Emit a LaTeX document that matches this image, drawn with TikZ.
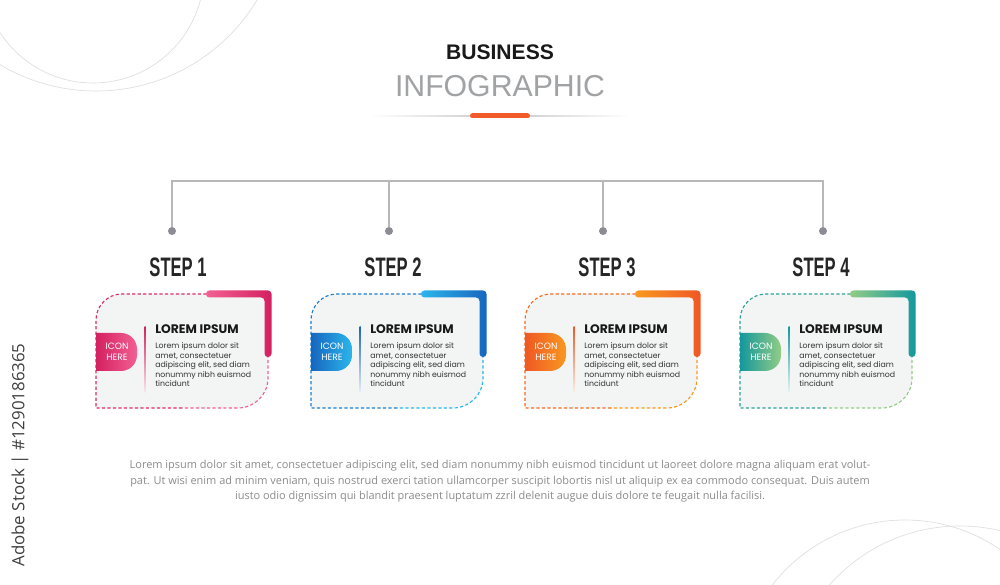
\documentclass[tikz,border=0pt]{standalone}
\usepackage{fontspec}
\setmainfont{Liberation Sans}
\newfontfamily\popfont{Poppins}
\newfontfamily\opensans{Open Sans}
\newfontfamily\stepfont{Liberation Sans}[FakeStretch=0.62]
\usepackage{xcolor}
\definecolor{pinkhi}{RGB}{242, 96,146}
\definecolor{pinklo}{RGB}{212, 32, 96}
\definecolor{bluehi}{RGB}{ 44,182,236}
\definecolor{bluelo}{RGB}{ 22,102,190}
\definecolor{orahi}{RGB}{248,152, 32}
\definecolor{oralo}{RGB}{240, 88, 36}
\definecolor{tealhi}{RGB}{146,204,134}
\definecolor{teallo}{RGB}{ 20,152,156}
\definecolor{cardbg}{RGB}{243,244,244}
\definecolor{linegray}{RGB}{184,184,186}
\definecolor{dotgray}{RGB}{140,140,148}
\definecolor{titlegray}{RGB}{160,162,164}
\definecolor{textgray}{RGB}{140,140,140}
\definecolor{accent}{RGB}{241, 90, 41}
\usepackage{tikz}
\usetikzlibrary{positioning}

\begin{document}
\begin{tikzpicture}[x=0.025cm, y=0.025cm]

  \tikzstyle{cardtitle} = [anchor=west, inner sep=0pt,
    font=\popfont\bfseries\fontsize{8.8}{10}\selectfont, text=black!90]
  \tikzstyle{cardtext} = [inner sep=0pt, align=left,
    font=\popfont\fontsize{5.55}{6.7}\selectfont, text=black!80]
  \tikzstyle{icontext} = [inner sep=0pt, align=center,
    font=\popfont\fontsize{6.5}{7.8}\selectfont, text=white]
  \tikzstyle{steplabel} = [inner sep=0pt,
    font=\stepfont\bfseries\fontsize{19}{19}\selectfont, text=black!85]
  \tikzstyle{hubdot} = [circle, fill=dotgray, inner sep=0pt, minimum size=0.2cm]
  \tikzstyle{treeline} = [draw=linegray, line width=0.9pt]
  \tikzstyle{cardline} = [dash pattern=on 2.3pt off 1.6pt, line width=0.8pt]
  \tikzstyle{arcline} = [draw=black!12, line width=0.5pt]

  \fill[white] (0,0) rectangle (1000,585);
  \useasboundingbox (0,0) rectangle (1000,585);

  % faint circles in the corners
  \begin{scope}
    \clip (0,0) rectangle (1000,585);
    \draw[arcline] (93,613) circle[radius=111];
    \draw[arcline] (96,682) circle[radius=188];
    \draw[arcline] (905,-103) circle[radius=168];
    \draw[arcline] (960,-115) circle[radius=174];
  \end{scope}

  % title
  \node[font=\bfseries\fontsize{15}{15}\selectfont, text=black!90] (biz) at (500,533) {BUSINESS};
  \node[font=\fontsize{21.5}{21.5}\selectfont, text=titlegray] (info) at (500,499) {INFOGRAPHIC};
  \shade[left color=white, right color=white, middle color=black!22] (370,468.6) rectangle (630,469.4);
  \draw[accent, line width=0.125cm, line cap=round] (472.5,469) -- (527.5,469);

  % tree
  \coordinate (b1) at (172,404);
  \coordinate (b2) at (389,404);
  \coordinate (b3) at (603,404);
  \coordinate (b4) at (823,404);
  \node[hubdot] (d1) at (172,354) {};
  \node[hubdot] (d2) at (389,354) {};
  \node[hubdot] (d3) at (603,354) {};
  \node[hubdot] (d4) at (823,354) {};
  \draw[treeline] (d1) -- (b1) -- (b4) -- (d4);
  \draw[treeline] (b2) -- (d2);
  \draw[treeline] (b3) -- (d3);

  \node[steplabel] (st1) at (178,318) {STEP 1};
  \node[steplabel] (st2) at (393,318) {STEP 2};
  \node[steplabel] (st3) at (607,318) {STEP 3};
  \node[steplabel] (st4) at (821,318) {STEP 4};

  % card 1
  \begin{scope}[shift={(96,177)}]
    \fill[cardbg] (0,0) -- (0,88) arc[start angle=180, end angle=90, radius=26] -- (172,114)
      -- (172,30) arc[start angle=0, end angle=-90, radius=30] -- cycle;
    \draw[cardline, pinklo!80!pinkhi] (86,0) -- (0,0) -- (0,88) arc[start angle=180, end angle=90, radius=26] -- (172,114);
    \draw[cardline, pinkhi] (172,114) -- (172,30) arc[start angle=0, end angle=-90, radius=30] -- (86,0);
    \shade[left color=pinkhi, right color=pinklo, rounded corners=0.085cm] (110,110.5) -- (110,117.5)
      -- (175.5,117.5) -- (175.5,51) -- (168.5,51) -- (168.5,110.5) -- cycle;
    \shade[left color=pinklo, right color=pinkhi] (0,37) -- (25,37) arc[start angle=-90, end angle=0, radius=16]
      -- (41,59) arc[start angle=0, end angle=90, radius=16] -- (0,75) -- cycle;
    \shade[top color=pinklo, bottom color=pinklo!10] (48.5,15) rectangle (49.5,81);
    \node[icontext] (ic1) at (21,56.5) {ICON\\HERE};
    \node[cardtitle] (lt1) at (59,79) {LOREM IPSUM};
    \node[cardtext, below=0.22cm of lt1.south west, anchor=north west] (lb1)
      {Lorem ipsum dolor sit\\amet, consectetuer\\adipiscing elit, sed diam\\nonummy nibh euismod\\tincidunt};
  \end{scope}

  % card 2
  \begin{scope}[shift={(311,177)}]
    \fill[cardbg] (0,0) -- (0,88) arc[start angle=180, end angle=90, radius=26] -- (172,114)
      -- (172,30) arc[start angle=0, end angle=-90, radius=30] -- cycle;
    \draw[cardline, bluelo!70!bluehi] (86,0) -- (0,0) -- (0,88) arc[start angle=180, end angle=90, radius=26] -- (172,114);
    \draw[cardline, bluehi] (172,114) -- (172,30) arc[start angle=0, end angle=-90, radius=30] -- (86,0);
    \shade[left color=bluehi, right color=bluelo, rounded corners=0.085cm] (110,110.5) -- (110,117.5)
      -- (175.5,117.5) -- (175.5,51) -- (168.5,51) -- (168.5,110.5) -- cycle;
    \shade[left color=bluelo, right color=bluehi] (0,37) -- (25,37) arc[start angle=-90, end angle=0, radius=16]
      -- (41,59) arc[start angle=0, end angle=90, radius=16] -- (0,75) -- cycle;
    \shade[top color=bluelo, bottom color=bluelo!10] (48.5,15) rectangle (49.5,81);
    \node[icontext] (ic2) at (21,56.5) {ICON\\HERE};
    \node[cardtitle] (lt2) at (59,79) {LOREM IPSUM};
    \node[cardtext, below=0.22cm of lt2.south west, anchor=north west] (lb2)
      {Lorem ipsum dolor sit\\amet, consectetuer\\adipiscing elit, sed diam\\nonummy nibh euismod\\tincidunt};
  \end{scope}

  % card 3
  \begin{scope}[shift={(525,177)}]
    \fill[cardbg] (0,0) -- (0,88) arc[start angle=180, end angle=90, radius=26] -- (172,114)
      -- (172,30) arc[start angle=0, end angle=-90, radius=30] -- cycle;
    \draw[cardline, oralo!70!orahi] (86,0) -- (0,0) -- (0,88) arc[start angle=180, end angle=90, radius=26] -- (172,114);
    \draw[cardline, orahi] (172,114) -- (172,30) arc[start angle=0, end angle=-90, radius=30] -- (86,0);
    \shade[left color=orahi, right color=oralo, rounded corners=0.085cm] (110,110.5) -- (110,117.5)
      -- (175.5,117.5) -- (175.5,51) -- (168.5,51) -- (168.5,110.5) -- cycle;
    \shade[left color=oralo, right color=orahi] (0,37) -- (25,37) arc[start angle=-90, end angle=0, radius=16]
      -- (41,59) arc[start angle=0, end angle=90, radius=16] -- (0,75) -- cycle;
    \shade[top color=oralo, bottom color=oralo!10] (48.5,15) rectangle (49.5,81);
    \node[icontext] (ic3) at (21,56.5) {ICON\\HERE};
    \node[cardtitle] (lt3) at (59,79) {LOREM IPSUM};
    \node[cardtext, below=0.22cm of lt3.south west, anchor=north west] (lb3)
      {Lorem ipsum dolor sit\\amet, consectetuer\\adipiscing elit, sed diam\\nonummy nibh euismod\\tincidunt};
  \end{scope}

  % card 4
  \begin{scope}[shift={(740,177)}]
    \fill[cardbg] (0,0) -- (0,88) arc[start angle=180, end angle=90, radius=26] -- (172,114)
      -- (172,30) arc[start angle=0, end angle=-90, radius=30] -- cycle;
    \draw[cardline, teallo!80!tealhi] (86,0) -- (0,0) -- (0,88) arc[start angle=180, end angle=90, radius=26] -- (172,114);
    \draw[cardline, tealhi] (172,114) -- (172,30) arc[start angle=0, end angle=-90, radius=30] -- (86,0);
    \shade[left color=tealhi, right color=teallo, rounded corners=0.085cm] (110,110.5) -- (110,117.5)
      -- (175.5,117.5) -- (175.5,51) -- (168.5,51) -- (168.5,110.5) -- cycle;
    \shade[left color=teallo, right color=tealhi] (0,37) -- (25,37) arc[start angle=-90, end angle=0, radius=16]
      -- (41,59) arc[start angle=0, end angle=90, radius=16] -- (0,75) -- cycle;
    \shade[top color=teallo, bottom color=teallo!10] (48.5,15) rectangle (49.5,81);
    \node[icontext] (ic4) at (21,56.5) {ICON\\HERE};
    \node[cardtitle] (lt4) at (59,79) {LOREM IPSUM};
    \node[cardtext, below=0.22cm of lt4.south west, anchor=north west] (lb4)
      {Lorem ipsum dolor sit\\amet, consectetuer\\adipiscing elit, sed diam\\nonummy nibh euismod\\tincidunt};
  \end{scope}

  % paragraph and side mark
  \node[font=\opensans\fontsize{7.8}{11}\selectfont, text=textgray, align=center] (para) at (500,103.5)
    {Lorem ipsum dolor sit amet, consectetuer adipiscing elit, sed diam nonummy nibh euismod tincidunt ut laoreet dolore magna aliquam erat volut-\\
     pat. Ut wisi enim ad minim veniam, quis nostrud exerci tation ullamcorper suscipit lobortis nisl ut aliquip ex ea commodo consequat. Duis autem\\
     iusto odio dignissim qui blandit praesent luptatum zzril delenit augue duis dolore te feugait nulla facilisi.};
  \node[rotate=90, font=\opensans\fontsize{12}{12}\selectfont, text=black!75] (stock) at (20,130)
    {Adobe Stock | \#1290186365};

\end{tikzpicture}
\end{document}
